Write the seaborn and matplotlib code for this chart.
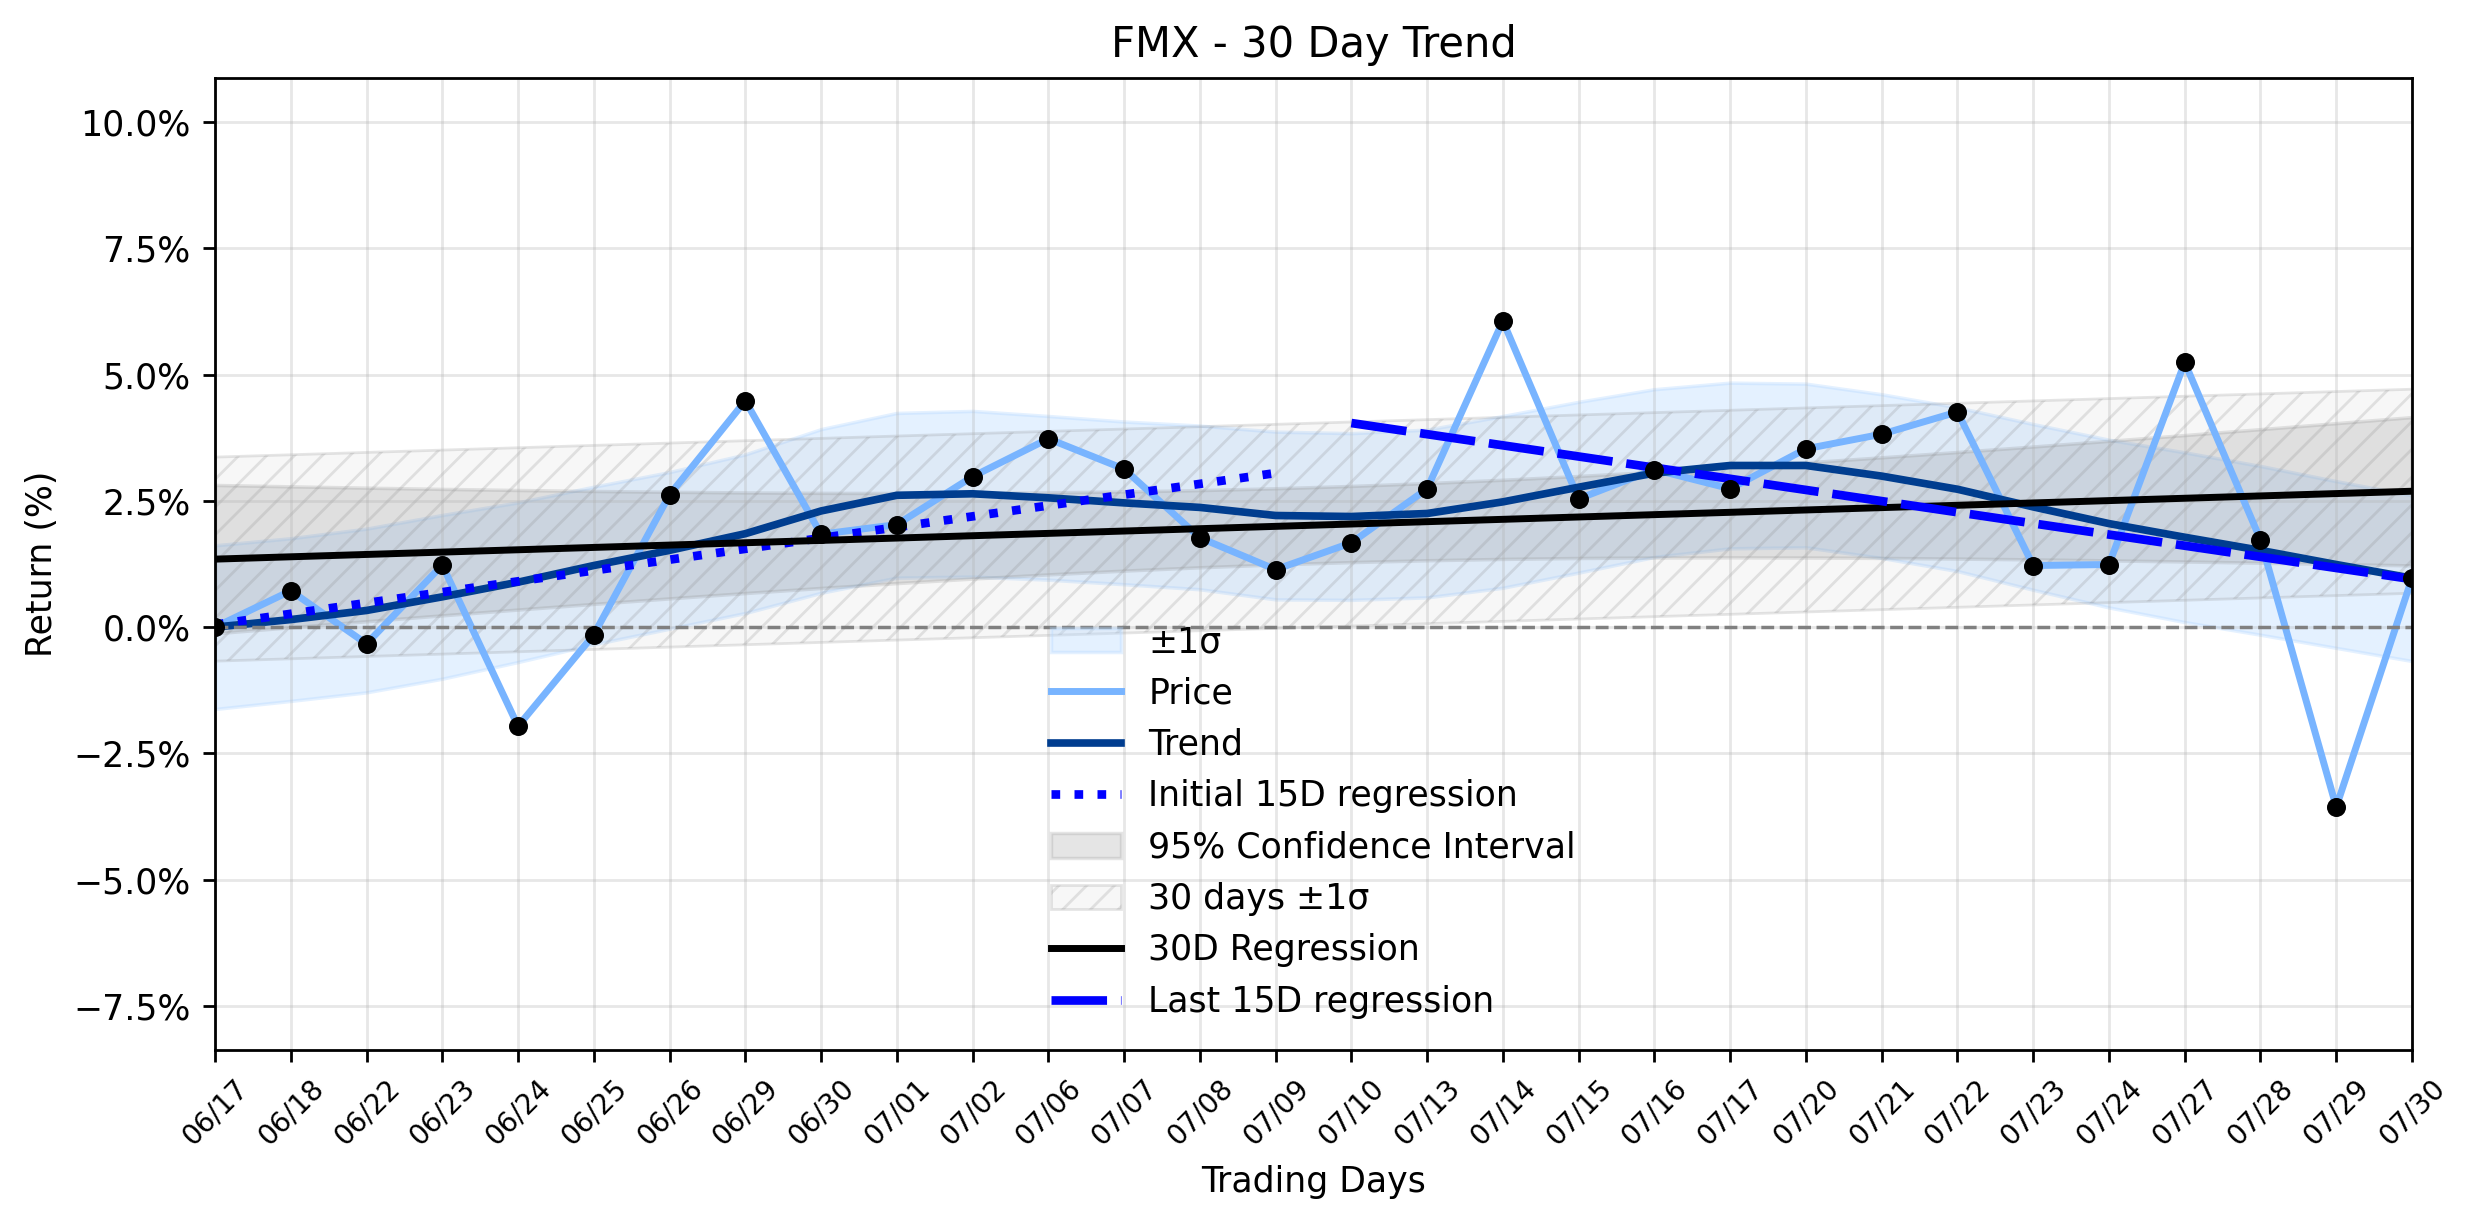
import matplotlib.pyplot as plt
import seaborn as sns
import numpy as np
import pandas as pd
from matplotlib.ticker import FuncFormatter, MultipleLocator

## data (returns in %)
dates = ['06/17', '06/18', '06/22', '06/23', '06/24', '06/25', '06/26', '06/29', '06/30', '07/01',
         '07/02', '07/06', '07/07', '07/08', '07/09', '07/10', '07/13', '07/14', '07/15', '07/16',
         '07/17', '07/20', '07/21', '07/22', '07/23', '07/24', '07/27', '07/28', '07/29', '07/30']
price = [0.00, 0.72, -0.33, 1.23, -1.96, -0.15, 2.62, 4.48, 1.84, 2.03,
         2.98, 3.73, 3.13, 1.77, 1.14, 1.67, 2.74, 6.06, 2.54, 3.12,
         2.74, 3.53, 3.82, 4.26, 1.22, 1.24, 5.24, 1.73, -3.56, 0.97]
trend = [0.00, 0.15, 0.33, 0.60, 0.89, 1.22, 1.52, 1.85, 2.30, 2.61,
         2.64, 2.56, 2.46, 2.37, 2.21, 2.19, 2.25, 2.48, 2.77, 3.05,
         3.20, 3.20, 2.99, 2.73, 2.38, 2.05, 1.78, 1.52, 1.24, 0.97]
sigma = [1.62, 1.61, 1.62, 1.62, 1.58, 1.56, 1.55, 1.57, 1.62, 1.63,
         1.64, 1.62, 1.61, 1.62, 1.66, 1.65, 1.66, 1.70, 1.69, 1.66,
         1.64, 1.62, 1.62, 1.62, 1.64, 1.66, 1.68, 1.67, 1.65, 1.64]
init15_days = [0, 14]
init15_vals = [0.05, 3.05]
last15_days = [15, 29]
last15_vals = [4.04, 0.95]

plt.rcParams['hatch.color'] = '#d4d4d4'
plt.rcParams['hatch.linewidth'] = 0.8

days = np.arange(len(dates))
df = pd.DataFrame({'day': days, 'price': price, 'trend': trend, 'sigma': sigma})
df['lo'] = df['trend'] - df['sigma']
df['hi'] = df['trend'] + df['sigma']

## 30 day regression with 95% confidence band
n = len(df)
slope, intercept = np.polyfit(df['day'], df['price'], 1)
df['reg'] = intercept + slope * df['day']
resid = df['price'] - df['reg']
s_res = np.sqrt((resid ** 2).sum() / (n - 2))
xm = df['day'].mean()
sxx = ((df['day'] - xm) ** 2).sum()
ci = 2.048 * s_res * np.sqrt(1 / n + (df['day'] - xm) ** 2 / sxx)
std30 = df['price'].std()

fig, ax = plt.subplots(figsize=(2474 / 250, 1224 / 250), dpi=250)
fig.subplots_adjust(left=215 / 2474, right=2412 / 2474, top=1 - 78 / 1224, bottom=1 - 1050 / 1224)

h_sig = ax.fill_between(df['day'], df['lo'], df['hi'], color='#b3d7ff', alpha=0.35)
sns.lineplot(data=df, x='day', y='price', color='#78b4ff', lw=2, ax=ax)
h_price = ax.lines[-1]
sns.lineplot(data=df, x='day', y='trend', color='#003d8f', lw=2.2, ax=ax)
h_trend = ax.lines[-1]
sns.lineplot(x=init15_days, y=init15_vals, color='blue', lw=2.5, linestyle=':', ax=ax)
h_init = ax.lines[-1]
h_ci = ax.fill_between(df['day'], df['reg'] - ci, df['reg'] + ci, color='gray', alpha=0.2)
h_hatch = ax.fill_between(df['day'], df['reg'] - std30, df['reg'] + std30,
                          facecolor=(0.5, 0.5, 0.5, 0.06), edgecolor=(0.5, 0.5, 0.5, 0.2),
                          hatch='///', lw=0.8)
sns.lineplot(data=df, x='day', y='reg', color='black', lw=2, ax=ax)
h_reg = ax.lines[-1]
sns.lineplot(x=last15_days, y=last15_vals, color='blue', lw=2.5, linestyle=(0, (6.4, 1.6)), ax=ax)
h_last = ax.lines[-1]
sns.scatterplot(data=df, x='day', y='price', color='black', s=30, linewidth=0, zorder=5, ax=ax)

ax.axhline(0, color='gray', ls='--', lw=1)

## axes setup
rng = df['price'].max() - df['price'].min()
ax.set_ylim(df['price'].min() - 0.5 * rng, df['price'].max() + 0.5 * rng)
ax.set_xlim(0, n - 1)
ax.set_xticks(days)
ax.set_xticklabels(dates, rotation=45, fontsize=8)
ax.yaxis.set_major_locator(MultipleLocator(2.5))
ax.yaxis.set_major_formatter(FuncFormatter(lambda v, p: f'{v:.1f}%'.replace('-', '\u2212')))
ax.grid(True, alpha=0.3)
ax.set_title('FMX - 30 Day Trend')
ax.set_xlabel('Trading Days')
ax.set_ylabel('Return (%)')

ax.legend([h_sig, h_price, h_trend, h_init, h_ci, h_hatch, h_reg, h_last],
          ['±1σ', 'Price', 'Trend', 'Initial 15D regression', '95% Confidence Interval',
           '30 days ±1σ', '30D Regression', 'Last 15D regression'],
          loc='lower center', frameon=False)

fig.savefig('out.png', dpi=250)
